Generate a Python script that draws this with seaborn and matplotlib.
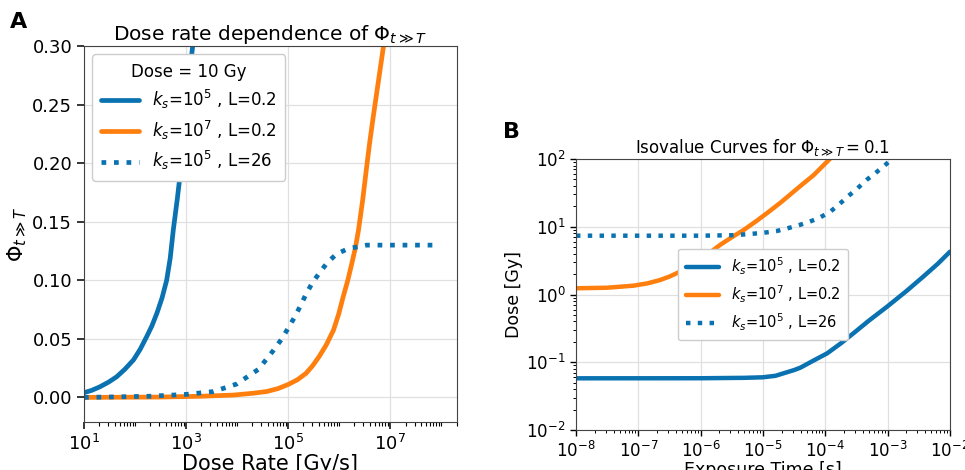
import numpy as np
import pandas as pd
import matplotlib
matplotlib.use("Agg")
import matplotlib.pyplot as plt
import matplotlib.ticker as mticker
import seaborn as sns

# ---------------- Panel A data (log10 dose rate, Phi) ----------------
a_ks5_logx = [1.0, 1.15, 1.31, 1.48, 1.64, 1.8, 1.97, 2.1, 2.23, 2.33, 2.43, 2.53, 2.62,
              2.69, 2.75, 2.83, 2.91, 2.96, 3.01, 3.07, 3.13, 3.18]
a_ks5_phi = [0.004, 0.006, 0.009, 0.013, 0.0176, 0.024, 0.032, 0.041, 0.052, 0.061, 0.072,
             0.085, 0.100, 0.119, 0.143, 0.170, 0.200, 0.227, 0.254, 0.277, 0.300, 0.32]

a_ks7_logx = [1.0, 2.5, 3.3, 3.93, 4.3, 4.58, 4.8, 5.0, 5.18, 5.35, 5.48, 5.61, 5.75, 5.89,
              5.99, 6.08, 6.17, 6.25, 6.32, 6.38, 6.46, 6.54, 6.6, 6.67, 6.77, 6.87, 6.93]
a_ks7_phi = [0.0, 0.0003, 0.001, 0.002, 0.0035, 0.005, 0.0075, 0.011, 0.015, 0.0205, 0.027,
             0.035, 0.045, 0.0575, 0.071, 0.086, 0.100, 0.1146, 0.128, 0.143, 0.168, 0.197,
             0.218, 0.240, 0.27, 0.300, 0.32]

a_L26_logx = [1.0, 1.7, 2.29, 3.01, 3.54, 3.99, 4.42, 4.71, 4.87, 5.0, 5.12, 5.24, 5.35, 5.47,
              5.61, 5.76, 5.95, 6.18, 6.54, 7.0, 7.5, 7.98]
a_L26_phi = [0.0, 0.0005, 0.001, 0.0026, 0.005, 0.0114, 0.024, 0.040, 0.0496, 0.059, 0.068,
             0.078, 0.088, 0.0975, 0.106, 0.1146, 0.1225, 0.127, 0.130, 0.130, 0.130, 0.130]

# ---------------- Panel B data (log10 exposure time, log10 dose) ----------------
b_ks5_logt = [-8.0, -6.0, -5.3, -5.0, -4.8, -4.67, -4.5, -4.4, -4.2, -3.97, -3.75, -3.55,
              -3.3, -3.01, -2.7, -2.43, -2.2, -2.0]
b_ks5_logd = [-1.237, -1.236, -1.23, -1.222, -1.2, -1.163, -1.115, -1.08, -0.98, -0.868,
              -0.72, -0.573, -0.385, -0.18, 0.05, 0.263, 0.45, 0.632]

b_ks7_logt = [-8.0, -7.5, -7.08, -6.85, -6.65, -6.5, -6.33, -6.17, -6.01, -5.85, -5.69,
              -5.5, -5.31, -5.12, -4.94, -4.72, -4.51, -4.35, -4.19, -3.95, -3.85]
b_ks7_logd = [0.092, 0.10, 0.13, 0.165, 0.214, 0.265, 0.337, 0.42, 0.509, 0.62, 0.731,
              0.845, 0.952, 1.075, 1.198, 1.355, 1.517, 1.64, 1.76, 1.98, 2.07]

b_L26_logt = [-8.0, -6.0, -5.5, -5.26, -5.0, -4.78, -4.57, -4.4, -4.25, -4.08, -3.92,
              -3.78, -3.63, -3.48, -3.34, -3.2, -3.07, -2.93]
b_L26_logd = [0.868, 0.868, 0.875, 0.889, 0.91, 0.937, 0.986, 1.03, 1.075, 1.14, 1.222,
              1.33, 1.454, 1.57, 1.69, 1.79, 1.887, 2.0]

labels = [r"$k_s$=$10^5$ , L=0.2", r"$k_s$=$10^7$ , L=0.2", r"$k_s$=$10^5$ , L=26"]
BLUE = "#0a72b0"
ORANGE = "#ff7f0e"

sns.set_style("ticks", {"text.color": "black", "axes.labelcolor": "black",
                        "xtick.color": "black", "ytick.color": "black"})
plt.rcParams["font.family"] = ["DejaVu Sans"]

fig = plt.figure(figsize=(9.65, 4.7), dpi=100)
axA = fig.add_axes([84 / 965, (470 - 422) / 470, 373 / 965, (422 - 46) / 470])
axB = fig.add_axes([576 / 965, (470 - 430) / 470, 374 / 965, (430 - 159) / 470])

# ---- Panel A ----
for lx, ly, col, ls, lab in [
    (a_ks5_logx, a_ks5_phi, BLUE, "-", labels[0]),
    (a_ks7_logx, a_ks7_phi, ORANGE, "-", labels[1]),
    (a_L26_logx, a_L26_phi, BLUE, ":", labels[2]),
]:
    df = pd.DataFrame({"x": 10 ** np.array(lx, dtype=float), "y": ly})
    sns.lineplot(data=df, x="x", y="y", ax=axA, color=col, linestyle=ls,
                 lw=3.4, label=lab, sort=False)

axA.set_xscale("log")
axA.set_xlim(10, 10 ** 8.31)
axA.set_ylim(-0.021, 0.30)
axA.set_xticks([1e1, 1e3, 1e5, 1e7])
axA.xaxis.set_minor_locator(mticker.LogLocator(base=10, subs=np.arange(1, 10), numticks=50))
axA.xaxis.set_minor_formatter(mticker.NullFormatter())
axA.set_yticks(np.arange(0, 0.301, 0.05))
axA.yaxis.set_major_formatter(mticker.FormatStrFormatter("%.2f"))
axA.grid(True, which="major", color="#e0e0e0", lw=0.9)
axA.tick_params(axis="both", which="major", labelsize=13, length=5, width=1.1)
axA.tick_params(axis="x", which="minor", length=3, width=0.8)
axA.set_xlabel("Dose Rate [Gy/s]", fontsize=15, labelpad=0)
axA.set_ylabel(r"$\Phi_{t\gg T}$", fontsize=15, labelpad=2)
axA.set_title(r"Dose rate dependence of $\Phi_{t\gg T}$", fontsize=14.5, pad=4)
axA.legend(title="Dose = 10 Gy", loc="upper left", fontsize=12,
           title_fontsize=12, handlelength=2.3, framealpha=1,
           borderpad=0.5, labelspacing=0.45)
for sp in axA.spines.values():
    sp.set_color("#444444")

# ---- Panel B ----
for lx, ly, col, ls, lab in [
    (b_ks5_logt, b_ks5_logd, BLUE, "-", labels[0]),
    (b_ks7_logt, b_ks7_logd, ORANGE, "-", labels[1]),
    (b_L26_logt, b_L26_logd, BLUE, ":", labels[2]),
]:
    df = pd.DataFrame({"x": 10 ** np.array(lx, dtype=float),
                       "y": 10 ** np.array(ly, dtype=float)})
    sns.lineplot(data=df, x="x", y="y", ax=axB, color=col, linestyle=ls,
                 lw=3.2, label=lab, sort=False)

axB.set_xscale("log")
axB.set_yscale("log")
axB.set_xlim(1e-8, 1e-2)
axB.set_ylim(1e-2, 1e2)
axB.xaxis.set_major_locator(mticker.LogLocator(base=10, numticks=20))
axB.yaxis.set_major_locator(mticker.LogLocator(base=10, numticks=20))
axB.xaxis.set_minor_locator(mticker.LogLocator(base=10, subs=np.arange(2, 10), numticks=50))
axB.yaxis.set_minor_locator(mticker.LogLocator(base=10, subs=np.arange(2, 10), numticks=50))
axB.xaxis.set_minor_formatter(mticker.NullFormatter())
axB.yaxis.set_minor_formatter(mticker.NullFormatter())
axB.grid(True, which="major", color="#e0e0e0", lw=0.9)
axB.tick_params(axis="both", which="major", labelsize=12, length=4, width=1.0)
axB.tick_params(axis="both", which="minor", length=2.5, width=0.7)
axB.set_xlabel("Exposure Time [s]", fontsize=12.5, labelpad=0)
axB.set_ylabel("Dose [Gy]", fontsize=12.5, labelpad=2)
axB.set_title(r"Isovalue Curves for $\Phi_{t\gg T} = 0.1$", fontsize=12, pad=4)
axB.legend(loc="center", bbox_to_anchor=(0.5, 0.5), fontsize=10.5, handlelength=2.3,
           framealpha=1, borderpad=0.5, labelspacing=0.45)
for sp in axB.spines.values():
    sp.set_color("#444444")

fig.text(10 / 965, 1 - 22 / 470, "A", fontsize=16, fontweight="bold", va="center")
fig.text(503 / 965, 1 - 132 / 470, "B", fontsize=16, fontweight="bold", va="center")

fig.savefig("out.png", dpi=100)
